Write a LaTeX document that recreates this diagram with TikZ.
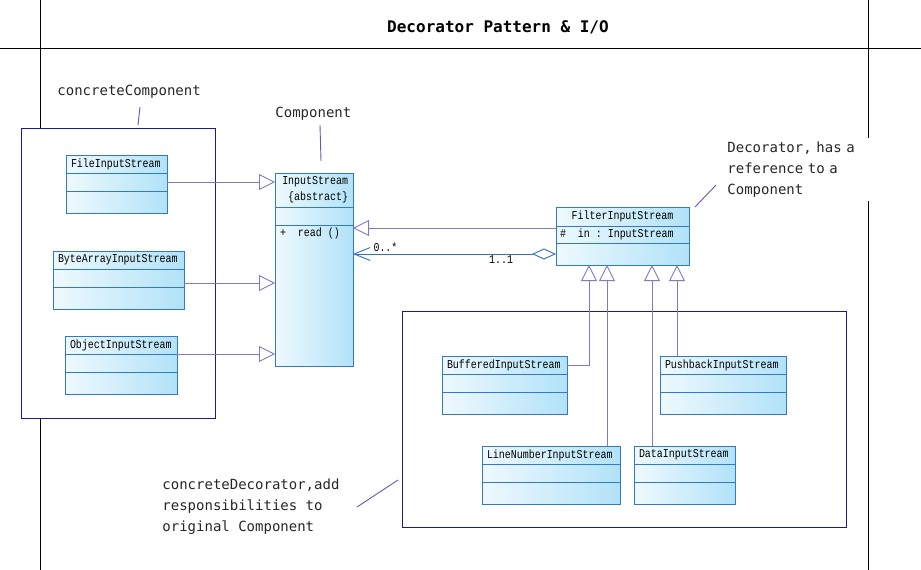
\documentclass[tikz,border=0pt]{standalone}
\usepackage{fontspec}
\usetikzlibrary{positioning,arrows.meta}
\newfontfamily\classfont[FakeStretch=0.83]{Liberation Mono}
\newfontfamily\notefont{DejaVu Sans Mono}
\newcommand\chsp{\phantom{x}}
\definecolor{umlborder}{RGB}{48,120,208}
\definecolor{umllight}{RGB}{238,249,254}
\definecolor{umldeep}{RGB}{178,226,248}
\definecolor{linkcol}{RGB}{132,120,192}
\definecolor{aggrcol}{RGB}{44,112,200}
\definecolor{groupcol}{RGB}{24,24,160}
\definecolor{notecol}{RGB}{96,88,184}
\begin{document}
\begin{tikzpicture}[x=1pt,y=-1pt,line width=0.9pt,
    umlhead/.style={draw=umlborder,left color=umllight,right color=umldeep,
      font=\classfont\fontsize{12}{16}\selectfont,inner xsep=5pt,inner ysep=0pt,
      outer sep=0pt,minimum height=18pt,align=left},
    umlpart/.style={umlhead},
    group/.style={draw=groupcol,fill=white,inner sep=0pt,outer sep=0pt},
    inherit/.style={draw=linkcol,-{Triangle[open,length=16pt,width=16pt,fill=white]}},
    aggr/.style={draw=aggrcol,{Diamond[open,length=24pt,width=11pt,fill=white]}-{Straight Barb[length=16pt,width=13pt]}},
    mult/.style={font=\classfont\fontsize{12}{16}\selectfont,inner sep=1.5pt},
    note/.style={font=\notefont\fontsize{14}{21}\selectfont,text=black!85,inner sep=0pt,align=left},
    noteline/.style={draw=notecol}]
    \useasboundingbox (0,0) rectangle (921,570);
    % frame
    \draw (40,0) -- (40,570);
    \draw (0,48) -- (921,48);
    \draw (868,0) -- (868,570);
    \node[font=\notefont\bfseries\fontsize{16}{20}\selectfont,anchor=base] (title) at (498,32) {Decorator Pattern \& I/O};

    % groups
    \node[group,minimum width=194pt,minimum height=290pt,anchor=north west] (concrete) at (21,128) {};
    \node[group,minimum width=444pt,minimum height=216pt,anchor=north west] (decorators) at (402,311) {};

    % plain classes
    \foreach \n/\x/\y/\w/\t [evaluate=\w as \tw using \w-10] in
      {file/66/155/101/FileInputStream, byte/53/251/131/ByteArrayInputStream,
       obj/65/336/112/ObjectInputStream, buf/442/356/125/BufferedInputStream,
       push/660/356/126/PushbackInputStream, line/482/446/138/LineNumberInputStream,
       data/634/446/101/DataInputStream}{
      \node[umlhead,text width=\tw pt,anchor=north west] (\n) at (\x,\y) {\t};
      \node[umlpart,minimum width=\w pt,below=0pt of \n] (\n-a) {};
      \node[umlpart,minimum width=\w pt,minimum height=22pt,below=0pt of \n-a] (\n-o) {};
    }

    % InputStream
    \node[umlhead,text width=68pt,align=right,minimum height=34pt,anchor=north west] (input) at (275,173) {InputStream\\\{abstract\}};
    \node[umlpart,minimum width=78pt,below=0pt of input] (input-a) {};
    \node[umlpart,text width=68pt,text height=11pt,text depth=130pt,minimum height=0pt,below=0pt of input-a] (input-o) {+\chsp\chsp read\chsp()};

    % FilterInputStream
    \node[umlhead,text width=123pt,align=center,minimum height=19pt,anchor=north west] (filter) at (556,207) {FilterInputStream};
    \node[umlpart,text width=125pt,inner xsep=4pt,minimum height=17pt,below=0pt of filter] (filter-a) {\#\chsp\chsp in\chsp:\chsp InputStream};
    \node[umlpart,minimum width=133pt,minimum height=22pt,below=0pt of filter-a] (filter-o) {};

    % generalisations
    \draw[inherit] (file-a.east) -- (file-a.east -| input-o.west);
    \draw[inherit] ([yshift=-5pt]byte-a.east) -- ([yshift=-5pt]byte-a.east -| input-o.west);
    \draw[inherit] (obj-a.north east) -- (obj-a.north east -| input-o.west);
    \draw[inherit] ([yshift=-2pt]filter-a.north west) -- ([yshift=-2pt]filter-a.north west -| input-o.east);
    \draw[inherit] (buf.east) -| ([xshift=33pt]filter-o.south west);
    \draw[inherit] ([xshift=-13pt]line.north east) -- ([xshift=-13pt]line.north east |- filter-o.south);
    \draw[inherit] ([xshift=18pt]data.north west) -- ([xshift=18pt]data.north west |- filter-o.south);
    \draw[inherit] ([xshift=17pt]push.north west) -- ([xshift=17pt]push.north west |- filter-o.south);

    % aggregation
    \draw[aggr] (filter-o.west) -- node[mult,pos=0.27,below] {1..1}
      node[mult,pos=0.84,above] {0..*} (filter-o.west -| input-o.east);

    % notes
    \node[note,anchor=base west] (ccnote) at (57,95) {concreteComponent};
    \node[note,anchor=base west] (compnote) at (275,117) {Component};
    \node[note,fill=white,inner xsep=5pt,inner ysep=4pt,text width=143pt,anchor=north west] (decnote) at (722,137.4)
      {Decorator, has a\\reference to a\\Component};
    \node[note,anchor=north west] (cdnote) at (162,478.4)
      {concreteDecorator,add\\responsibilities to\\original Component};
    \coordinate (cc-from) at (140,107);
    \coordinate (cc-to) at (138,125);
    \coordinate (comp-from) at (320,125);
    \coordinate (comp-to) at (321,161);
    \coordinate (dec-from) at (716,185);
    \coordinate (dec-to) at (695,207);
    \coordinate (cd-from) at (357,507);
    \coordinate (cd-to) at (398,480);
    \draw[noteline] (cc-from) -- (cc-to);
    \draw[noteline] (comp-from) -- (comp-to);
    \draw[noteline] (dec-from) -- (dec-to);
    \draw[noteline] (cd-from) -- (cd-to);
  \end{tikzpicture}
\end{document}
